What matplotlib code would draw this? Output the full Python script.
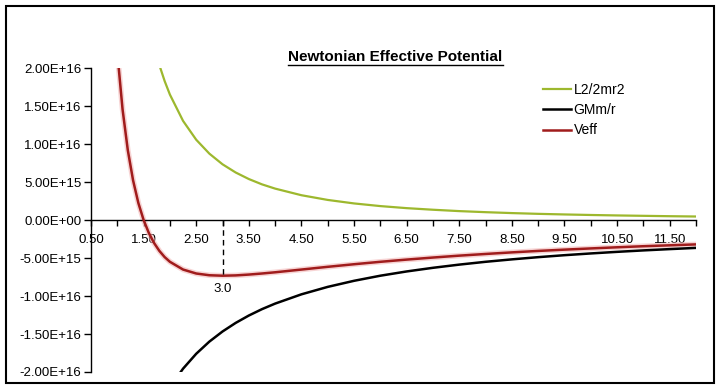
import matplotlib
matplotlib.use("Agg")
import matplotlib.pyplot as plt
from matplotlib.lines import Line2D
from matplotlib.patches import Rectangle

plt.rcParams['font.family'] = ['Liberation Sans', 'DejaVu Sans']

# radius values
r = [1.0, 1.1, 1.2, 1.3, 1.4, 1.5, 1.6, 1.7, 1.8, 1.9, 2.0, 2.25, 2.5, 2.75,
     3.0, 3.25, 3.5, 3.75, 4.0, 4.5, 5.0, 5.5, 6.0, 6.5, 7.0, 7.5, 8.0, 8.5,
     9.0, 9.5, 10.0, 10.5, 11.0, 11.5, 12.0]
# L2/2mr2 (units of 1e15)
centrifugal = [66.0, 54.55, 45.83, 39.05, 33.67, 29.33, 25.78, 22.84, 20.37,
               18.28, 16.5, 13.04, 10.56, 8.73, 7.33, 6.25, 5.39, 4.69, 4.13,
               3.26, 2.64, 2.18, 1.83, 1.56, 1.35, 1.17, 1.03, 0.91, 0.81, 0.73,
               0.66, 0.60, 0.55, 0.50, 0.46]
# GMm/r (units of 1e15)
gravity = [-44.0, -40.0, -36.67, -33.85, -31.43, -29.33, -27.5, -25.88, -24.44,
           -23.16, -22.0, -19.56, -17.6, -16.0, -14.67, -13.54, -12.57, -11.73,
           -11.0, -9.78, -8.8, -8.0, -7.33, -6.77, -6.29, -5.87, -5.5, -5.18,
           -4.89, -4.63, -4.4, -4.19, -4.0, -3.83, -3.67]
# Veff (units of 1e15)
veff = [22.0, 14.55, 9.17, 5.21, 2.24, 0.0, -1.72, -3.04, -4.07, -4.88, -5.5,
        -6.52, -7.04, -7.27, -7.33, -7.29, -7.18, -7.04, -6.88, -6.52, -6.16,
        -5.82, -5.5, -5.21, -4.94, -4.69, -4.47, -4.26, -4.07, -3.90, -3.74,
        -3.59, -3.45, -3.33, -3.21]

ytick_vals = [2.0e16, 1.5e16, 1.0e16, 5.0e15, 0.0, -5.0e15, -1.0e16, -1.5e16, -2.0e16]
ytick_labels = ["2.00E+16", "1.50E+16", "1.00E+16", "5.00E+15", "0.00E+00",
                "-5.00E+15", "-1.00E+16", "-1.50E+16", "-2.00E+16"]
xtick_labels = ["0.50", "1.50", "2.50", "3.50", "4.50", "5.50", "6.50", "7.50",
                "8.50", "9.50", "10.50", "11.50"]
xtick_vals = [float(s) for s in xtick_labels]
r_min = 3.0
r_min_label = "3.0"
series_names = ["L2/2mr2", "GMm/r", "Veff"]

scale = 1e15
W, H = 720, 392
fig = plt.figure(figsize=(W / 100, H / 100), dpi=100)
ax = fig.add_axes([91 / W, 1 - 372 / H, (696 - 91) / W, (372 - 68) / H])

c_green = "#9DB82E"
c_black = "#000000"
c_red = "#A01C1C"

ax.plot(r, [v * scale for v in centrifugal], color=c_green, lw=1.6, label=series_names[0], zorder=3)
ax.plot(r, [v * scale for v in gravity], color=c_black, lw=1.8, label=series_names[1], zorder=3)
ax.plot(r, [v * scale for v in veff], color="#F2B8B8", lw=4.0, alpha=0.6, zorder=2)
ax.plot(r, [v * scale for v in veff], color=c_red, lw=1.8, label=series_names[2], zorder=3)

ax.set_xlim(0.5, 12.0)
ax.set_ylim(-2.0e16, 2.0e16)

for s in ["top", "right"]:
    ax.spines[s].set_visible(False)
ax.spines["bottom"].set_position(("data", 0))
ax.spines["left"].set_linewidth(1.0)
ax.spines["bottom"].set_linewidth(1.0)

ax.set_yticks(ytick_vals)
ax.set_yticklabels(ytick_labels, fontsize=9.5)
ax.tick_params(axis="y", direction="out", length=5, width=1, pad=2)

minor = [0.5 + 0.5 * i for i in range(24)]
ax.set_xticks(minor, minor=True)
ax.set_xticks(xtick_vals)
ax.set_xticklabels(xtick_labels, fontsize=9.5)
ax.tick_params(axis="x", which="both", direction="out", length=4, width=1, pad=6)

# dashed marker at minimum
vmin = veff[r.index(r_min)] * scale
ax.plot([r_min, r_min], [0, vmin], color="black", lw=1.0, ls=(0, (4, 3)), zorder=4)
ax.annotate(r_min_label, xy=(r_min, vmin), xytext=(0, -5), textcoords="offset points",
            ha="center", va="top", fontsize=9.5)

# title with underline
fig.text(395 / W, 1 - 57 / H, "Newtonian Effective Potential", ha="center", va="center",
         fontsize=11, fontweight="bold")
fig.add_artist(Line2D([288 / W, 503 / W], [1 - 65 / H, 1 - 65 / H], color="black", lw=1.0,
                      transform=fig.transFigure))

leg = ax.legend(loc="upper left", bbox_to_anchor=(536 / W, 1 - 76 / H),
                bbox_transform=fig.transFigure, frameon=False, fontsize=10,
                handlelength=2.0, handletextpad=0.2, labelspacing=0.45, borderpad=0)

# outer border
fig.add_artist(Rectangle((6.5 / W, 1 - 383 / H), (714 - 6.5) / W, (383 - 5.5) / H,
                         transform=fig.transFigure, fill=False, edgecolor="black", lw=1.5))

fig.savefig("out.png", dpi=100)
